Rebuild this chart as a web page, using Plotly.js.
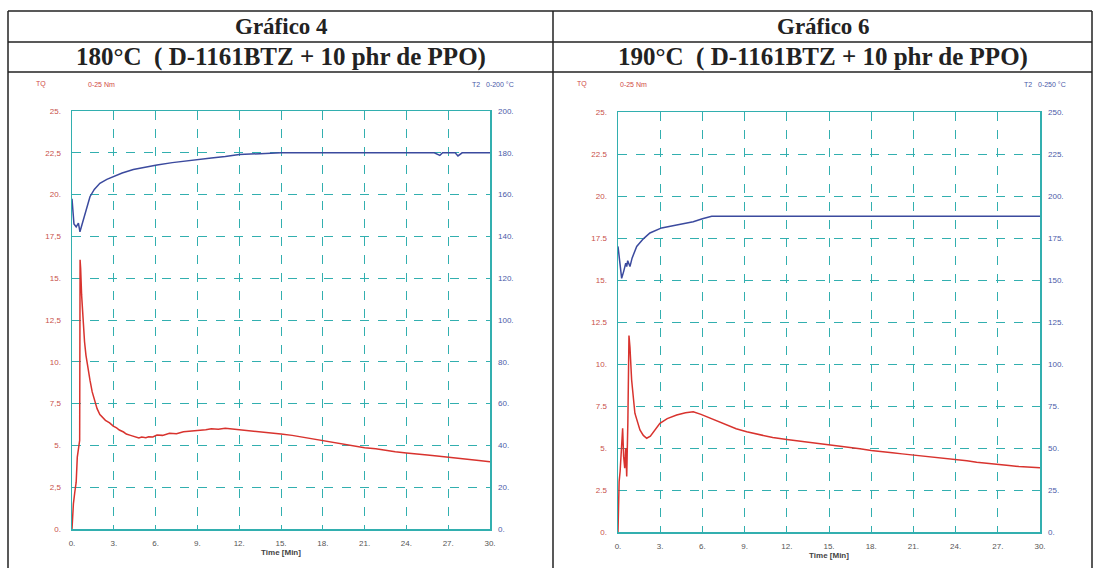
<!DOCTYPE html>
<html>
<head>
<meta charset="utf-8">
<script src="https://cdn.plot.ly/plotly-3.0.1.min.js"></script>
<style>html,body{margin:0;padding:0;background:#fff;}#chart{width:1099px;height:568px;}</style>
</head>
<body>
<div id="chart"></div>
<script>
// ---- Gráfico 4 (180 °C) ----
const g4TorqueTime = [0, 0.1, 0.2, 0.3, 0.38, 0.45, 0.52, 0.55, 0.58, 0.62, 0.69, 0.8, 0.9, 1.0, 1.1, 1.29, 1.45, 1.65, 1.8, 2.0, 2.2, 2.4, 2.7, 2.96, 3.2, 3.4, 3.7, 3.9, 4.2, 4.5, 4.8, 5.0, 5.3, 5.5, 5.8, 6.1, 6.5, 7.0, 7.5, 8.0, 8.6, 9.2, 9.6, 10.0, 10.5, 11.0, 11.5, 12.0, 12.5, 13.0, 13.5, 14.0, 14.5, 15.0, 15.8, 16.5, 17.2, 18.0, 18.8, 19.5, 20.2, 21.0, 21.8, 22.5, 23.2, 24.0, 24.8, 25.5, 26.2, 27.0, 27.8, 28.5, 29.2, 30.0];
const g4Torque = [0, 1.5, 2.2, 2.8, 4.3, 4.9, 5.2, 5.3, 16.1, 15.6, 14.0, 12.4, 11.2, 10.4, 9.8, 8.9, 8.2, 7.6, 7.2, 6.85, 6.7, 6.5, 6.35, 6.15, 6.05, 5.92, 5.8, 5.68, 5.6, 5.52, 5.45, 5.5, 5.46, 5.52, 5.5, 5.62, 5.6, 5.72, 5.7, 5.82, 5.85, 5.9, 5.94, 6.0, 5.96, 6.02, 5.98, 5.95, 5.9, 5.88, 5.82, 5.78, 5.74, 5.68, 5.6, 5.5, 5.42, 5.3, 5.2, 5.06, 4.98, 4.86, 4.8, 4.7, 4.62, 4.55, 4.5, 4.42, 4.36, 4.3, 4.22, 4.15, 4.1, 4.02];
const g4TempTime = [0, 0.14, 0.3, 0.46, 0.57, 0.75, 0.93, 1.1, 1.29, 1.6, 2.0, 2.5, 2.96, 3.6, 4.4, 5.2, 6.1, 7.2, 8.2, 9.2, 10.0, 11.0, 12.0, 13.5, 15.0, 17.0, 20.0, 23.0, 26.0, 26.4, 26.6, 27.5, 27.7, 28.0, 30.0];
const g4Temp = [158, 146, 144.6, 146.4, 142.2, 146.5, 151, 155, 159, 162.5, 165.4, 167.3, 168.6, 170.3, 172, 173.2, 174.2, 175.3, 176.2, 176.8, 177.5, 178.2, 179.2, 179.6, 180, 180, 180, 180, 180, 178.8, 180, 180, 178.5, 180, 180];

// ---- Gráfico 6 (190 °C) ----
const g6TorqueTime = [0, 0.08, 0.15, 0.22, 0.28, 0.33, 0.4, 0.48, 0.55, 0.62, 0.7, 0.78, 0.85, 0.97, 1.2, 1.4, 1.56, 1.8, 2.04, 2.3, 2.6, 2.98, 3.5, 4.17, 4.8, 5.35, 5.9, 6.54, 7.1, 7.73, 8.4, 9.15, 10.1, 11.0, 12.0, 12.8, 13.5, 14.2, 15.0, 15.8, 16.5, 17.2, 18.0, 18.8, 19.5, 20.2, 21.0, 21.8, 22.5, 23.2, 24.0, 24.8, 25.5, 26.2, 27.0, 27.8, 28.5, 29.2, 30.0];
const g6Torque = [0, 3.0, 3.6, 5.0, 5.9, 6.17, 4.5, 3.8, 5.0, 3.3, 6.5, 11.7, 11.0, 9.05, 7.07, 6.5, 6.07, 5.75, 5.58, 5.7, 6.05, 6.47, 6.75, 6.96, 7.1, 7.16, 7.0, 6.77, 6.6, 6.37, 6.15, 5.97, 5.77, 5.62, 5.5, 5.42, 5.32, 5.25, 5.18, 5.08, 5.02, 4.95, 4.85, 4.8, 4.72, 4.65, 4.58, 4.52, 4.45, 4.38, 4.3, 4.24, 4.15, 4.08, 4.02, 3.96, 3.9, 3.86, 3.82];
const g6TempTime = [0, 0.05, 0.15, 0.26, 0.4, 0.55, 0.62, 0.69, 0.85, 1.0, 1.33, 1.8, 2.27, 3.1, 4.17, 5.35, 6.0, 6.66, 10, 15, 20, 25, 30];
const g6Temp = [170, 166, 156, 151, 155, 160, 158, 161.5, 158, 163, 170, 174.5, 178, 181, 182.7, 184.7, 186.5, 188, 188, 188, 188, 188, 188];

// ---- tick labels ----
const timeTicks = [0, 3, 6, 9, 12, 15, 18, 21, 24, 27, 30];
const timeTickText = ["0.", "3.", "6.", "9.", "12.", "15.", "18.", "21.", "24.", "27.", "30."];
const torqueTicks = [0, 2.5, 5, 7.5, 10, 12.5, 15, 17.5, 20, 22.5, 25];
const torqueText4 = ["0.", "2,5", "5.", "7,5", "10.", "12,5", "15.", "17,5", "20.", "22,5", "25."];
const torqueText6 = ["0.", "2.5", "5.", "7.5", "10.", "12.5", "15.", "17.5", "20.", "22.5", "25."];
const tempTicks4 = [0, 20, 40, 60, 80, 100, 120, 140, 160, 180, 200];
const tempText4 = ["0.", "20.", "40.", "60.", "80.", "100.", "120.", "140.", "160.", "180.", "200."];
const tempTicks6 = [0, 25, 50, 75, 100, 125, 150, 175, 200, 225, 250];
const tempText6 = ["0.", "25.", "50.", "75.", "100.", "125.", "150.", "175.", "200.", "225.", "250."];

const W = 1099, H = 568;
const px = v => v / W, py = v => 1 - v / H;
const RED = '#d8332e', BLUE = '#3b4a9e', GRID = 'rgb(50,175,175)';
const tickFont = {family: 'Liberation Sans, Arial', size: 8};

function xAxis(dom, anchor) {
  return {domain: dom, anchor: anchor, range: [0, 30], tickvals: timeTicks, ticktext: timeTickText,
    showgrid: true, gridcolor: GRID, griddash: 'dash', gridwidth: 1, zeroline: false,
    showline: true, linecolor: GRID, linewidth: 1.5, mirror: true, ticks: '', ticklabelstandoff: 6,
    tickfont: Object.assign({color: '#555'}, tickFont),
    title: {text: '<b>Time [Min]</b>', font: {family: 'Liberation Sans, Arial', size: 8, color: '#444'}, standoff: 1}};
}
function yLeft(dom, anchor, text) {
  return {domain: dom, anchor: anchor, range: [0, 25], tickvals: torqueTicks, ticktext: text,
    showgrid: true, gridcolor: GRID, griddash: 'dash', gridwidth: 1, zeroline: false,
    showline: true, linecolor: GRID, linewidth: 1.5, mirror: true, ticks: '', ticklabelstandoff: 8,
    tickfont: Object.assign({color: '#c8504a'}, tickFont)};
}
function yRight(overlay, anchor, vals, text, max) {
  return {overlaying: overlay, anchor: anchor, side: 'right', range: [0, max], tickvals: vals, ticktext: text,
    showgrid: false, zeroline: false, showline: false, ticks: '', ticklabelstandoff: 7,
    tickfont: Object.assign({color: '#4a5aa8'}, tickFont)};
}

const data = [
  {x: g4TorqueTime, y: g4Torque, xaxis: 'x', yaxis: 'y', mode: 'lines', line: {color: RED, width: 1.5}},
  {x: g4TempTime, y: g4Temp, xaxis: 'x', yaxis: 'y2', mode: 'lines', line: {color: BLUE, width: 1.5}},
  {x: g6TorqueTime, y: g6Torque, xaxis: 'x2', yaxis: 'y3', mode: 'lines', line: {color: RED, width: 1.5}},
  {x: g6TempTime, y: g6Temp, xaxis: 'x2', yaxis: 'y4', mode: 'lines', line: {color: BLUE, width: 1.5}}
];

const lineStyle = {color: '#222', width: 1.5};
const shapes = [
  {type: 'line', xref: 'paper', yref: 'paper', x0: px(8), x1: px(1092), y0: py(11), y1: py(11), line: lineStyle},
  {type: 'line', xref: 'paper', yref: 'paper', x0: px(8), x1: px(1092), y0: py(42), y1: py(42), line: lineStyle},
  {type: 'line', xref: 'paper', yref: 'paper', x0: px(8), x1: px(1092), y0: py(72), y1: py(72), line: lineStyle},
  {type: 'line', xref: 'paper', yref: 'paper', x0: px(8), x1: px(8), y0: py(11), y1: py(568), line: lineStyle},
  {type: 'line', xref: 'paper', yref: 'paper', x0: px(553), x1: px(553), y0: py(11), y1: py(568), line: lineStyle},
  {type: 'line', xref: 'paper', yref: 'paper', x0: px(1092), x1: px(1092), y0: py(11), y1: py(568), line: lineStyle}
];

const serif = 'Liberation Serif, Times New Roman, serif';
const small = {family: 'Liberation Sans, Arial', size: 7};
function ann(x, y, text, font, anchor) {
  return {xref: 'paper', yref: 'paper', x: px(x), y: py(y), text: text, showarrow: false,
    xanchor: anchor || 'center', yanchor: 'middle', font: font};
}
const annotations = [
  ann(281, 27, '<b>Gráfico 4</b>', {family: serif, size: 23, color: '#222'}),
  ann(281, 57, '<b>180°C  ( D-1161BTZ + 10 phr de PPO)</b>', {family: serif, size: 25, color: '#222'}),
  ann(823, 27, '<b>Gráfico 6</b>', {family: serif, size: 23, color: '#222'}),
  ann(823, 57, '<b>190°C  ( D-1161BTZ + 10 phr de PPO)</b>', {family: serif, size: 25, color: '#222'}),
  ann(34, 84, 'TQ', Object.assign({color: '#d04a44'}, small), 'left'),
  ann(86, 84, '0-25 Nm', Object.assign({color: '#d04a44'}, small), 'left'),
  ann(470, 84, 'T2   0-200 °C', Object.assign({color: '#4a5aa8'}, small), 'left'),
  ann(575, 84, 'TQ', Object.assign({color: '#d04a44'}, small), 'left'),
  ann(618, 84, '0-25 Nm', Object.assign({color: '#d04a44'}, small), 'left'),
  ann(1022, 84, 'T2   0-250 °C', Object.assign({color: '#4a5aa8'}, small), 'left')
];

const layout = {
  width: W, height: H, margin: {l: 0, r: 0, t: 0, b: 0}, showlegend: false,
  paper_bgcolor: '#fff', plot_bgcolor: '#fff',
  xaxis: xAxis([px(72), px(490)], 'y'),
  yaxis: yLeft([1 - 529 / H, 1 - 111 / H], 'x', torqueText4),
  yaxis2: yRight('y', 'x', tempTicks4, tempText4, 200),
  xaxis2: xAxis([px(618), px(1040)], 'y3'),
  yaxis3: yLeft([1 - 532 / H, 1 - 112 / H], 'x2', torqueText6),
  yaxis4: yRight('y3', 'x2', tempTicks6, tempText6, 250),
  shapes: shapes, annotations: annotations
};

Plotly.newPlot('chart', data, layout, {displayModeBar: false, staticPlot: true});
</script>
</body>
</html>
